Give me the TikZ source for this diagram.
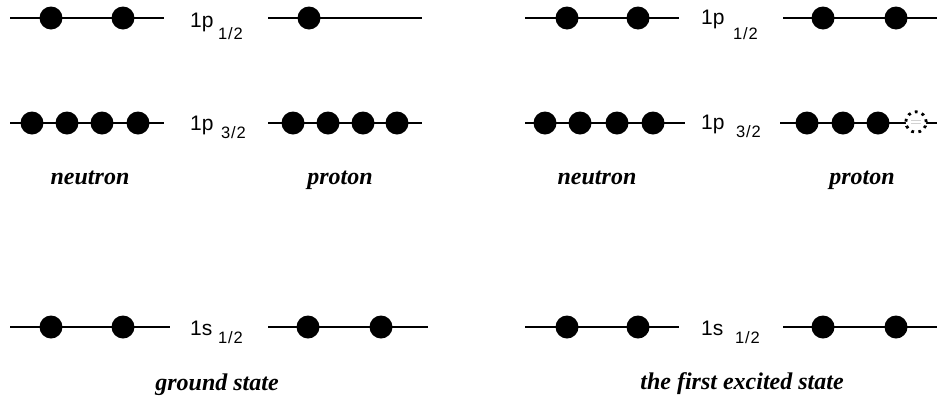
\documentclass[tikz,border=0pt]{standalone}
\usepackage{fontspec}
\setmainfont{Liberation Serif}
\setsansfont{Liberation Sans}
\begin{document}
\begin{tikzpicture}[x=1pt,y=-1pt,
  level/.style={line width=2.8pt},
  dot/.style={circle,fill=black,inner sep=0pt,minimum size=23pt},
  hole/.style={circle,draw=black,dash pattern=on 2.8pt off 4.4pt,line width=2.8pt,fill=white,inner sep=0pt,minimum size=20.5pt},
  orb/.style={font=\sffamily\fontsize{21}{25}\selectfont,anchor=base west,inner sep=0pt},
  sub/.style={font=\sffamily\fontsize{16.5}{19}\selectfont\addfontfeature{LetterSpace=5},anchor=base west,inner sep=0pt},
  lab/.style={font=\bfseries\itshape\fontsize{24}{28}\selectfont,anchor=base,inner sep=0pt}]
\useasboundingbox (0,0) rectangle (937,397);
% ---------- left panel: ground state ----------
% 1p1/2
\coordinate (La1) at (10,18); \coordinate (La2) at (164,18);
\draw[level] (La1) -- (La2);
\node[dot] (Lan1) at (51,18) {}; \node[dot] (Lan2) at (123,18) {};
\coordinate (Lb1) at (268,18); \coordinate (Lb2) at (422,18);
\draw[level] (Lb1) -- (Lb2);
\node[dot] (Lbp1) at (309,18) {};
\node[orb] (Lt1) at (190,27) {1p};
\node[sub] (Ls1) at (218,39) {1/2};
% 1p3/2
\coordinate (Lc1) at (10,123); \coordinate (Lc2) at (164,123);
\draw[level] (Lc1) -- (Lc2);
\foreach \x [count=\i] in {32,67,102,138} \node[dot] (Lcn\i) at (\x,123) {};
\coordinate (Ld1) at (268,123); \coordinate (Ld2) at (422,123);
\draw[level] (Ld1) -- (Ld2);
\foreach \x [count=\i] in {293,328,363,397} \node[dot] (Ldp\i) at (\x,123) {};
\node[orb] (Lt2) at (190,130) {1p};
\node[sub] (Ls2) at (221,138) {3/2};
\node[lab] (Lneu) at (90,184) {neutron};
\node[lab] (Lpro) at (340,184) {proton};
% 1s1/2
\coordinate (Le1) at (10,327); \coordinate (Le2) at (170,327);
\draw[level] (Le1) -- (Le2);
\node[dot] (Len1) at (51,327) {}; \node[dot] (Len2) at (123,327) {};
\coordinate (Lf1) at (268,327); \coordinate (Lf2) at (428,327);
\draw[level] (Lf1) -- (Lf2);
\node[dot] (Lfp1) at (308,327) {}; \node[dot] (Lfp2) at (381,327) {};
\node[orb] (Lt3) at (190,335) {1s};
\node[sub] (Ls3) at (218,343) {1/2};
\node[lab] (Lgs) at (217,390) {ground state};
% ---------- right panel: first excited state ----------
% 1p1/2
\coordinate (Ra1) at (525,18); \coordinate (Ra2) at (679,18);
\draw[level] (Ra1) -- (Ra2);
\node[dot] (Ran1) at (567,18) {}; \node[dot] (Ran2) at (638,18) {};
\coordinate (Rb1) at (783,18); \coordinate (Rb2) at (937,18);
\draw[level] (Rb1) -- (Rb2);
\node[dot] (Rbp1) at (823,18) {}; \node[dot] (Rbp2) at (896,18) {};
\node[orb] (Rt1) at (701,24) {1p};
\node[sub] (Rs1) at (733,39) {1/2};
% 1p3/2
\coordinate (Rc1) at (525,123); \coordinate (Rc2) at (685,123);
\draw[level] (Rc1) -- (Rc2);
\foreach \x [count=\i] in {545,580,617,653} \node[dot] (Rcn\i) at (\x,123) {};
\coordinate (Rd1) at (780,123); \coordinate (Rd2) at (937,123);
\draw[level] (Rd1) -- (Rd2);
\foreach \x [count=\i] in {807,843,878} \node[dot] (Rdp\i) at (\x,123) {};
\node[hole] (Rhole) at (916,122) {};
\draw[gray!35,line width=0.8pt] ([xshift=-5pt,yshift=-1.5pt]Rhole.center) -- ([xshift=5pt,yshift=-1.5pt]Rhole.center);
\draw[gray!35,line width=0.8pt] ([xshift=-5pt,yshift=1.5pt]Rhole.center) -- ([xshift=5pt,yshift=1.5pt]Rhole.center);
\node[orb] (Rt2) at (701,129) {1p};
\node[sub] (Rs2) at (736,137) {3/2};
\node[lab] (Rneu) at (597,184) {neutron};
\node[lab] (Rpro) at (862,184) {proton};
% 1s1/2
\coordinate (Re1) at (525,327); \coordinate (Re2) at (679,327);
\draw[level] (Re1) -- (Re2);
\node[dot] (Ren1) at (567,327) {}; \node[dot] (Ren2) at (638,327) {};
\coordinate (Rf1) at (783,327); \coordinate (Rf2) at (937,327);
\draw[level] (Rf1) -- (Rf2);
\node[dot] (Rfp1) at (823,327) {}; \node[dot] (Rfp2) at (896,327) {};
\node[orb] (Rt3) at (701,335) {1s};
\node[sub] (Rs3) at (735,343) {1/2};
\node[lab] (Rfes) at (742,389) {the first excited state};
\end{tikzpicture}
\end{document}
